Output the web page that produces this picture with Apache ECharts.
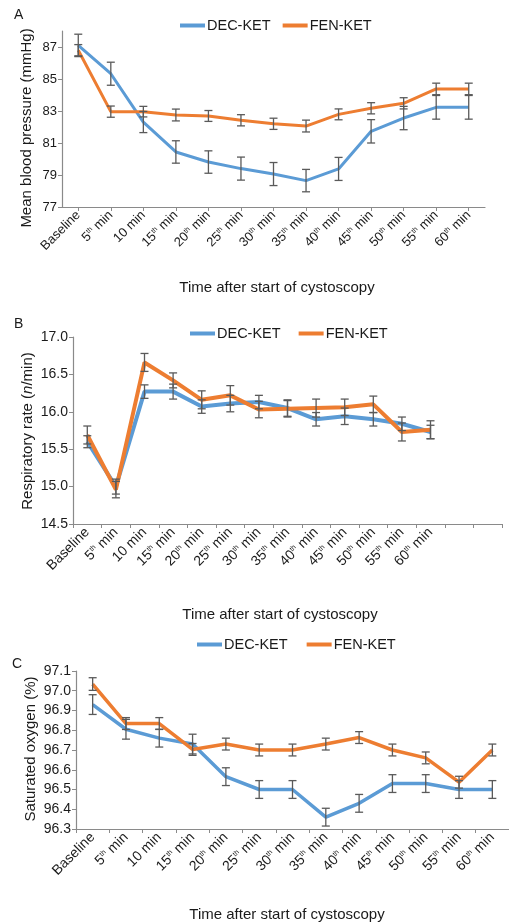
<!DOCTYPE html>
<html><head><meta charset="utf-8">
<script src="https://cdn.jsdelivr.net/npm/echarts@6/dist/echarts.min.js"></script>
<style>html,body{margin:0;padding:0;background:#fff}#c{width:509px;height:924px}</style>
</head><body><div id="c"></div>
<script>
const categories = ['Baseline','5th min','10 min','15th min','20th min','25th min','30th min','35th min','40th min','45th min','50th min','55th min','60th min'];
const categoriesB = categories.concat(['', '']);

const mbpDec = [87.1, 85.33, 82.31, 80.44, 79.81, 79.4, 79.06, 78.65, 79.38, 81.73, 82.56, 83.23, 83.23];
const mbpDecErr = [0.7, 0.72, 0.66, 0.7, 0.7, 0.72, 0.72, 0.7, 0.72, 0.73, 0.73, 0.74, 0.74];
const mbpFen = [86.8, 82.96, 82.96, 82.75, 82.69, 82.42, 82.2, 82.06, 82.79, 83.17, 83.48, 84.38, 84.38];
const mbpFenErr = [0.35, 0.35, 0.33, 0.37, 0.34, 0.35, 0.35, 0.37, 0.34, 0.35, 0.35, 0.36, 0.36];

const rrDec = [15.6, 15.0, 16.27, 16.27, 16.07, 16.11, 16.13, 16.05, 15.9, 15.94, 15.9, 15.84, 15.73];
const rrDecErr = [0.08, 0.1, 0.09, 0.1, 0.09, 0.11, 0.09, 0.11, 0.09, 0.11, 0.09, 0.09, 0.09];
const rrFen = [15.69, 14.96, 16.66, 16.42, 16.16, 16.22, 16.03, 16.04, 16.05, 16.06, 16.1, 15.73, 15.76];
const rrFenErr = [0.12, 0.11, 0.12, 0.1, 0.12, 0.13, 0.11, 0.11, 0.12, 0.11, 0.11, 0.12, 0.12];

const soDec = [96.93, 96.805, 96.76, 96.73, 96.565, 96.5, 96.5, 96.36, 96.43, 96.53, 96.53, 96.5, 96.5];
const soDecErr = [0.05, 0.05, 0.045, 0.05, 0.045, 0.045, 0.045, 0.045, 0.045, 0.045, 0.045, 0.045, 0.045];
const soFen = [97.034, 96.834, 96.834, 96.703, 96.73, 96.70, 96.70, 96.73, 96.763, 96.70, 96.66, 96.537, 96.70];
const soFenErr = [0.032, 0.03, 0.03, 0.03, 0.03, 0.03, 0.03, 0.03, 0.03, 0.03, 0.03, 0.03, 0.03];

const FONT = 'Liberation Sans, Arial, sans-serif';
const BLUE = '#5B9BD5', ORANGE = '#ED7D31', AXIS = '#8a8a8a', TXT = '#1a1a1a', ERR = '#5a5a5a';

function fmtCat(v){ return v.replace(/(\d+)th/, '$1{s|th}'); }
function xAxisCfg(idx, data, alignTicks, fs){
  return {
    type:'category', gridIndex: idx, data: data, boundaryGap: true,
    axisLine:{lineStyle:{color:AXIS, width:1.2}},
    axisTick:{show:true, alignWithLabel: alignTicks, length:4, lineStyle:{color:AXIS}},
    axisLabel:{rotate:45, interval:0, margin:6, color:TXT, fontFamily:FONT, fontSize:fs,
      formatter: fmtCat,
      rich:{s:{fontSize:7, verticalAlign:'top', padding:[0,0,6,0], fontFamily:FONT, color:TXT}}},
    splitLine:{show:false}
  };
}
function yAxisCfg(idx, min, max, interval, dec, fs){
  return {
    type:'value', gridIndex: idx, min:min, max:max, interval:interval,
    axisLine:{show:true, lineStyle:{color:AXIS, width:1.2}},
    axisTick:{show:true, length:4, lineStyle:{color:AXIS}},
    axisLabel:{color:TXT, fontFamily:FONT, fontSize:fs, margin:5,
      formatter: v => v.toFixed(dec)},
    splitLine:{show:false}
  };
}
function errData(mean, err){ return mean.map((m,i)=>[i, m-err[i], m+err[i]]); }
function errSeries(xi, yi, mean, err){
  return {
    type:'custom', xAxisIndex:xi, yAxisIndex:yi, z:5, silent:true,
    data: errData(mean, err),
    encode:{x:0, y:[1,2]},
    renderItem: function(params, api){
      const x = api.value(0);
      const lo = api.coord([x, api.value(1)]);
      const hi = api.coord([x, api.value(2)]);
      const w = 4;
      const st = {stroke: ERR, lineWidth: 1.3};
      return {type:'group', children:[
        {type:'line', shape:{x1:lo[0], y1:lo[1], x2:hi[0], y2:hi[1]}, style:st},
        {type:'line', shape:{x1:lo[0]-w, y1:lo[1], x2:lo[0]+w, y2:lo[1]}, style:st},
        {type:'line', shape:{x1:hi[0]-w, y1:hi[1], x2:hi[0]+w, y2:hi[1]}, style:st}
      ]};
    }
  };
}
function lineSeries(name, xi, yi, data, color, w){
  return {name:name, type:'line', xAxisIndex:xi, yAxisIndex:yi, data:data, symbol:'none',
    lineStyle:{color:color, width:w}, itemStyle:{color:color}, z:3, animation:false};
}
function legendCfg(left, top, gap){
  return {left:left, top:top, padding:0, itemWidth:25, itemHeight:4, icon:'rect', itemGap:gap,
    data:['DEC-KET','FEN-KET'],
    textStyle:{fontFamily:FONT, fontSize:14.5, color:TXT, padding:[0,0,0,-3]}};
}
function ctext(text, x, y, rot, rich){
  const st = {text:text, font:'15px ' + FONT, fill:TXT, align:'center', verticalAlign:'middle'};
  if (rich) st.rich = rich;
  return {type:'text', x:x, y:y, rotation: rot || 0, style: st};
}
const italic = {i:{fontStyle:'italic', fontFamily:FONT, fontSize:15, fill:TXT}};

const option = {
  animation:false,
  backgroundColor:'#fff',
  grid:[
    {left:62, top:31, width:423, height:176},
    {left:73, top:337, width:429, height:187},
    {left:76, top:671, width:436, height:158}
  ],
  legend:[ legendCfg(180, 18, 12), legendCfg(190, 326, 18), legendCfg(197, 637, 19) ],
  xAxis:[
    xAxisCfg(0, categories, true, 13),
    xAxisCfg(1, categoriesB, false, 14),
    xAxisCfg(2, categories, false, 14)
  ],
  yAxis:[
    yAxisCfg(0, 77, 88, 2, 0, 13),
    yAxisCfg(1, 14.5, 17.0, 0.5, 1, 14),
    yAxisCfg(2, 96.3, 97.1, 0.1, 1, 14)
  ],
  graphic:[
    {type:'text', left:14, top:8, style:{text:'A', font:'14px ' + FONT, fill:TXT}},
    {type:'text', left:14, top:317, style:{text:'B', font:'14px ' + FONT, fill:TXT}},
    {type:'text', left:12, top:657, style:{text:'C', font:'14px ' + FONT, fill:TXT}},
    ctext('Time after start of cystoscopy', 277, 288),
    ctext('Time after start of cystoscopy', 280, 615),
    ctext('Time after start of cystoscopy', 287, 915),
    ctext('Mean blood pressure (mmHg)', 26.5, 128, Math.PI/2),
    ctext('Respiratory rate ({i|n}/min)', 27.5, 431, Math.PI/2, italic),
    ctext('Saturated oxygen (%)', 30.5, 749, Math.PI/2)
  ],
  series:[
    lineSeries('DEC-KET', 0, 0, mbpDec, BLUE, 3),
    lineSeries('FEN-KET', 0, 0, mbpFen, ORANGE, 3),
    errSeries(0, 0, mbpDec, mbpDecErr),
    errSeries(0, 0, mbpFen, mbpFenErr),
    lineSeries('DEC-KET', 1, 1, rrDec, BLUE, 4),
    lineSeries('FEN-KET', 1, 1, rrFen, ORANGE, 4),
    errSeries(1, 1, rrDec, rrDecErr),
    errSeries(1, 1, rrFen, rrFenErr),
    lineSeries('DEC-KET', 2, 2, soDec, BLUE, 3.5),
    lineSeries('FEN-KET', 2, 2, soFen, ORANGE, 3.5),
    errSeries(2, 2, soDec, soDecErr),
    errSeries(2, 2, soFen, soFenErr)
  ]
};
// hide the non-tick top label of panel A (88)
option.yAxis[0].axisLabel.showMaxLabel = false;
const chart = echarts.init(document.getElementById('c'), null, {renderer:'canvas'});
chart.setOption(option);
</script>
</body></html>
